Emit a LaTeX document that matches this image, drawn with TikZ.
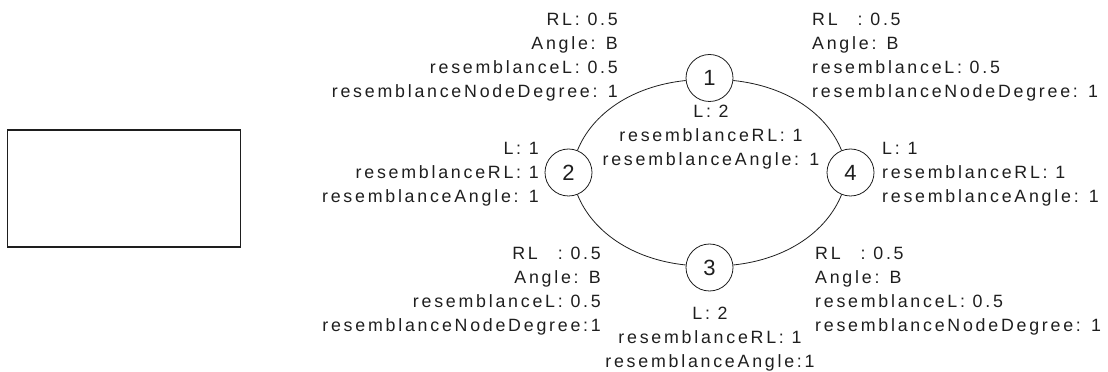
\documentclass[tikz,border=0pt]{standalone}
\usepackage{fontspec}
\newfontfamily\lblfont{Liberation Sans}[LetterSpace=15.5]
\newfontfamily\numfont{Liberation Sans}
\definecolor{ink}{RGB}{30,30,30}
\begin{document}
\begin{tikzpicture}[x=1pt,y=1pt,
  lbl/.style={font=\lblfont\fontsize{17.8}{24}\selectfont, inner sep=0pt, text=ink},
  vertex/.style={circle, draw=ink, line width=0.8pt, minimum size=47pt, inner sep=0pt,
                 fill=white, text=ink, font=\numfont\fontsize{22}{22}\selectfont},
  link/.style={draw=ink, line width=0.8pt},
  frame/.style={draw=ink, line width=1.4pt, minimum width=233pt, minimum height=117pt, inner sep=0pt}]
\useasboundingbox (0,0) rectangle (1108,372);

% empty box on the left
\node[frame] (box) at (124,183.5) {};

% the four vertices of the cycle
\node[vertex] (n1) at (709.5,294) {1};
\node[vertex] (n2) at (568.5,199.5) {2};
\node[vertex] (n4) at (850.5,199.5) {4};
\node[vertex] (n3) at (709.5,104.5) {3};

% elliptical edges
\draw[link] (n1.186) .. controls +(186:55) and +(68:39) .. (n2.68);
\draw[link] (n1.-6) .. controls +(-6:55) and +(112:39) .. (n4.112);
\draw[link] (n2.-68) .. controls +(-68:39) and +(174:55) .. (n3.174);
\draw[link] (n4.-112) .. controls +(-112:39) and +(6:55) .. (n3.6);

% edge labels
\node[lbl, anchor=north east, align=right] (e12) at (618,359)
  {RL: 0.5\\Angle: B\\resemblanceL: 0.5\\resemblanceNodeDegree: 1};
\node[lbl, anchor=north west, align=left] (e14) at (812,359)
  {RL\hspace{20pt}: 0.5\\Angle: B\\resemblanceL: 0.5\\resemblanceNodeDegree: 1};
\node[lbl, anchor=north east, align=right] (e23) at (601,125)
  {RL\hspace{20pt}: 0.5\\Angle: B\\resemblanceL: 0.5\\resemblanceNodeDegree:1};
\node[lbl, anchor=north west, align=left] (e43) at (815,125)
  {RL\hspace{20pt}: 0.5\\Angle: B\\resemblanceL: 0.5\\resemblanceNodeDegree: 1};

% vertex labels
\node[lbl, anchor=north, align=center] (l1) at (711,267)
  {L: 2\\resemblanceRL: 1\\resemblanceAngle: 1};
\node[lbl, anchor=north east, align=right] (l2) at (539,230)
  {L: 1\\resemblanceRL: 1\\resemblanceAngle: 1};
\node[lbl, anchor=north west, align=left] (l4) at (882,230)
  {L: 1\\resemblanceRL: 1\\resemblanceAngle: 1};
\node[lbl, anchor=north, align=center] (l3) at (710,65)
  {L: 2\\resemblanceRL: 1\\resemblanceAngle:1};
\end{tikzpicture}
\end{document}
